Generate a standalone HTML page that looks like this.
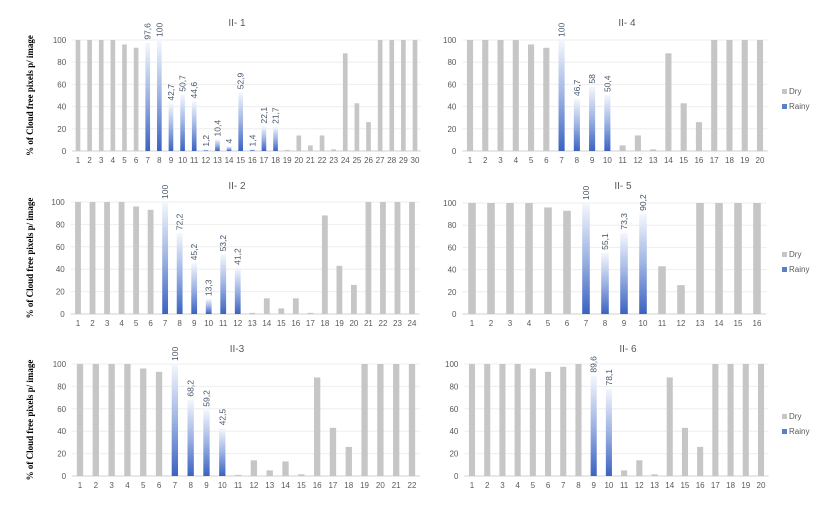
<!DOCTYPE html>
<html><head><meta charset="utf-8"><style>
html,body{margin:0;padding:0;background:#fff;}
svg{display:block;font-family:"Liberation Sans",sans-serif;}
</style></head><body>
<svg id="chart" width="830" height="506" viewBox="0 0 830 506" xmlns="http://www.w3.org/2000/svg">
<defs>
<linearGradient id="rg" x1="0" y1="0" x2="0" y2="1">
<stop offset="0" stop-color="#f4f7fd"/><stop offset="0.5" stop-color="#9db3e3"/><stop offset="1" stop-color="#3a62c0"/>
</linearGradient>
</defs>
</svg>
<script>
const titles = ["II- 1","II- 2","II-3","II- 4","II- 5","II- 6"];
const yTicks = [0,20,40,60,80,100];
const v1 = [100,100,100,100,96,93,97.6,100,42.7,50.7,44.6,1.2,10.4,4,52.9,1.4,22.1,21.7,1,14,5,14,1.5,88,43,26,100,100,100,100];
const r1 = [7,8,9,10,11,12,13,14,15,16,17,18];
const v2 = [100,100,100,100,96,93,100,72.2,45.2,13.3,53.2,41.2,1,14,5,14,1,88,43,26,100,100,100,100];
const r2 = [7,8,9,10,11,12];
const v3 = [100,100,100,100,96,93,100,68.2,59.2,42.5,1,14,5,13,1.5,88,43,26,100,100,100,100];
const r3 = [7,8,9,10];
const v4 = [100,100,100,100,96,93,100,46.7,58,50.4,5,14,1.5,88,43,26,100,100,100,100];
const r4 = [7,8,9,10];
const v5 = [100,100,100,100,96,93,100,55.1,73.3,90.2,43,26,100,100,100,100];
const r5 = [7,8,9,10];
const v6 = [100,100,100,100,96,93,97.5,100,89.6,78.1,5,14,1.5,88,43,26,100,100,100,100];
const r6 = [9,10];
const legendLabels = ["Dry","Rainy"];

const NS="http://www.w3.org/2000/svg";
const svg=document.getElementById('chart');
function mk(tag,attrs,parent){const e=document.createElementNS(NS,tag);for(const k in attrs)e.setAttribute(k,attrs[k]);(parent||svg).appendChild(e);return e;}

const layout=[
 {x1:78,xn:415,top:40,bot:151,tx:237,ty:26,left:true},
 {x1:78,xn:412,top:202,bot:314,tx:237,ty:189,left:true},
 {x1:80,xn:412,top:364,bot:476,tx:237,ty:352,left:true},
 {x1:470,xn:760,top:40,bot:151,tx:627,ty:26,left:false,ly:94},
 {x1:472,xn:757,top:203,bot:314,tx:623,ty:189,left:false,ly:257},
 {x1:472,xn:761,top:364,bot:476,tx:628,ty:352,left:false,ly:419}
];
const vals=[v1,v2,v3,v4,v5,v6];
const rains=[r1,r2,r3,r4,r5,r6];

vals.forEach((vs,p)=>{
  const L=layout[p];
  const n=vs.length;
  const step=(L.xn-L.x1)/(n-1);
  const xs=i=>L.x1+i*step;
  const ys=v=>L.bot-(v/100)*(L.bot-L.top);
  const g=mk('g',{});
  
  
  const pl=L.x1-step/2, pr=L.xn+step/2;
  yTicks.forEach(t=>{
    const y=ys(t);
    const gl=mk('line',{x1:pl,x2:pr,y1:y,y2:y,stroke:t===0?'#d0d0d0':'#eeeeee','stroke-width':1},g);
    
    
    const tl=mk('text',{x:pl-6,y:y+3,'text-anchor':'end','font-size':8,fill:'#595959'},g);
    tl.textContent=t;
    
    
  });
  const bw=step*0.4;
  vs.forEach((v,i)=>{
    const rainy=rains[p].includes(i+1);
    const x=xs(i);
    const b=mk('rect',{x:x-bw/2,y:ys(v),width:bw,height:ys(0)-ys(v),fill:rainy?'url(#rg)':'#c6c6c6'},g);
    
    
    const xl=mk('text',{x:x,y:L.bot+12,'text-anchor':'middle','font-size':8,fill:'#595959'},g);
    xl.textContent=i+1;
    
    
    if(rainy){
      const ty=ys(v)-3;
      const vl=mk('text',{x:0,y:0,transform:`translate(${x+3},${ty}) rotate(-90)`,'font-size':8.5,fill:'#44546a'},g);
      vl.textContent=String(v).replace('.',',');
      
      
    }
  });
  const tt=mk('text',{x:L.tx,y:L.ty,'text-anchor':'middle','font-size':10,fill:'#595959'},g);
  tt.textContent=titles[p];
  
  
  if(L.left){
    const cy=(L.top+L.bot)/2;
    const yt=mk('text',{x:0,y:0,transform:`translate(33,${cy}) rotate(-90)`,'text-anchor':'middle','font-size':9,'font-weight':'bold','font-family':'Liberation Serif, serif',fill:'#000'},g);
    yt.textContent='% of Cloud free pixels p/ image';
    
    
  } else {
    legendLabels.forEach((lab,k)=>{
      const y=L.ly+k*15;
      const sw=mk('rect',{x:782,y:y-5,width:5,height:5,fill:k===0?'#c6c6c6':'#5b7fc7'},g);
      
      
      const lt=mk('text',{x:789,y:y,'font-size':8,fill:'#595959'},g);
      lt.textContent=lab;
      
      
    });
  }
});
</script>
</body></html>
